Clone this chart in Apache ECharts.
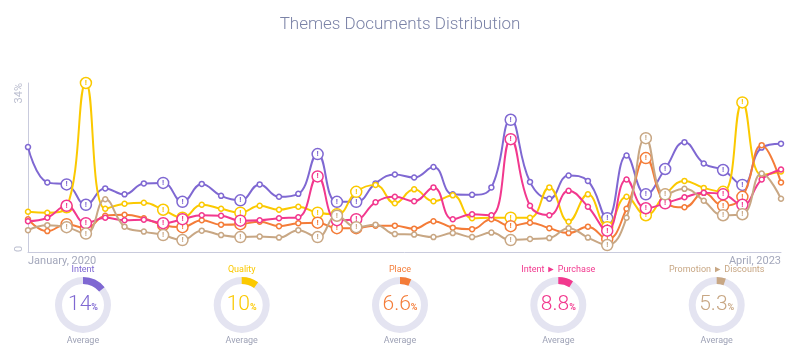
<!DOCTYPE html>
<html>
<head>
<meta charset="utf-8">
<script src="https://cdn.jsdelivr.net/npm/echarts@6/dist/echarts.min.js"></script>
<style>html,body{margin:0;padding:0;background:#fff}#c{width:800px;height:354px}</style>
</head>
<body>
<div id="c"></div>
<script>
const categories = ['January, 2020','February, 2020','March, 2020','April, 2020','May, 2020','June, 2020','July, 2020','August, 2020','September, 2020','October, 2020','November, 2020','December, 2020',
'January, 2021','February, 2021','March, 2021','April, 2021','May, 2021','June, 2021','July, 2021','August, 2021','September, 2021','October, 2021','November, 2021','December, 2021',
'January, 2022','February, 2022','March, 2022','April, 2022','May, 2022','June, 2022','July, 2022','August, 2022','September, 2022','October, 2022','November, 2022','December, 2022',
'January, 2023','February, 2023','March, 2023','April, 2023'];

const seriesNames = ['Intent', 'Quality', 'Place', 'Intent ► Purchase', 'Promotion ► Discounts'];
const seriesColors = ['#7f68d2', '#fbc900', '#f47c38', '#f2388e', '#c8a784'];

const intent    = [21.1,14.0,13.6,9.5,12.8,11.6,13.8,13.9,10.1,13.7,11.3,10.4,13.6,11.1,11.7,19.7,10.1,10.1,13.8,15.6,15.0,17.1,11.6,11.5,13.0,26.6,14.1,10.7,15.4,14.3,6.8,19.4,11.6,16.7,22.1,17.8,16.5,13.5,21.0,21.8];
const quality   = [8.1,7.9,9.0,34,8.7,9.7,9.9,8.5,6.9,9.5,8.7,7.9,9.3,8.5,9.1,7.9,7.6,12.1,13.5,9.8,12.6,10.2,11.4,6.8,6.9,6.9,6.9,13.0,6.1,11.6,5.0,11.1,7.4,11.5,14.3,12.9,12.1,30.1,15.5,16.2];
const place     = [6.6,4.2,5.6,4.8,7.3,7.5,6.8,5.4,5.0,6.4,5.5,5.6,6.1,5.2,5.8,5.9,4.8,4.8,5.3,5.3,4.7,6.2,4.9,4.6,6.6,5.2,5.9,4.8,3.8,5.1,2.6,8.7,18.9,10.0,9.0,11.9,9.3,11.1,21.5,14.0];
const purchase  = [6.2,6.9,9.3,5.8,6.9,6.4,6.5,5.8,6.6,7.4,7.3,6.3,6.4,6.8,7.0,15.2,6.4,6.6,10.0,11.1,10.2,13.0,6.6,7.6,7.4,22.7,9.3,7.4,12.3,9.1,4.3,14.6,8.8,9.8,11.0,11.9,11.6,9.5,14.6,16.6];
const discounts = [4.4,5.4,5.0,3.7,10.6,5.1,4.1,3.4,2.4,4.3,3.4,3.0,3.1,2.9,4.4,3.0,7.3,5.0,5.5,3.6,3.5,3.0,3.8,3.0,3.9,2.4,2.6,2.8,4.8,2.9,1.4,6.9,22.9,11.6,12.7,10.3,7.4,7.6,15.8,10.7];

const flaggedMonths = [2,3,7,8,11,15,16,17,25,30,32,33,36,37];
const averages = [14, 10, 6.6, 8.8, 5.3];
const yTickLabels = ['0', '34%'];

const allSeries = [intent, quality, place, purchase, discounts];
const fontFam = 'Roboto, "Noto Sans", sans-serif';

const lineSeries = allSeries.map((vals, si) => {
  const c = seriesColors[si];
  return {
    type: 'line',
    name: seriesNames[si],
    smooth: 0.45,
    symbol: 'circle',
    symbolSize: 5,
    showAllSymbol: true,
    lineStyle: { color: c, width: 2 },
    itemStyle: { color: '#fff', borderColor: c, borderWidth: 1.5 },
    emphasis: { disabled: true },
    data: vals.map((v, i) => flaggedMonths.indexOf(i) >= 0 ? {
      value: v, symbolSize: 11,
      label: { show: true, position: 'inside', formatter: '!', color: c, fontSize: 8, fontWeight: 'bold', fontFamily: fontFam }
    } : v),
    z: 2 + si
  };
});

const centersX = [83, 241.7, 400, 558.3, 716.7];
const gaugeSeries = averages.map((v, si) => {
  const c = seriesColors[si];
  return {
    type: 'gauge',
    center: [centersX[si], 305],
    radius: 28,
    startAngle: 90, endAngle: -270,
    min: 0, max: 100,
    pointer: { show: false },
    progress: { show: true, width: 7, roundCap: false, itemStyle: { color: c } },
    axisLine: { lineStyle: { width: 7, color: [[1, '#e4e4f1']] } },
    splitLine: { show: false }, axisTick: { show: false }, axisLabel: { show: false },
    title: { show: true, offsetCenter: [0, -35], color: c, fontSize: 9, fontFamily: fontFam },
    detail: {
      offsetCenter: [0, 0],
      formatter: '{v|{value}}{u|%}',
      rich: {
        v: { fontSize: 21, color: c, fontFamily: fontFam, fontWeight: 300 },
        u: { fontSize: 9, color: c, fontFamily: fontFam, padding: [6, 0, 0, 0] }
      }
    },
    data: [{ value: v, name: seriesNames[si] }]
  };
});

const chart = echarts.init(document.getElementById('c'), null, { renderer: 'canvas' });
chart.setOption({
  animation: false,
  backgroundColor: '#fff',
  title: {
    text: 'Themes Documents Distribution', left: 'center', top: 11,
    textStyle: { color: '#7b83a7', fontSize: 17, fontWeight: 300, fontFamily: fontFam }
  },
  grid: { left: 28, right: 19, top: 83, bottom: 102, containLabel: false },
  xAxis: {
    type: 'category', data: categories, boundaryGap: false,
    axisLine: { lineStyle: { color: '#c9cbdd', width: 1 } },
    axisTick: { show: false },
    axisLabel: {
      interval: (idx) => idx === 0 || idx === categories.length - 1,
      color: '#a3a7bb', fontSize: 11, fontFamily: fontFam, margin: 4,
      alignMinLabel: 'left', alignMaxLabel: 'right'
    },
    splitLine: { show: false }
  },
  yAxis: {
    type: 'value', min: 0, max: 34, interval: 34,
    axisLine: { show: true, lineStyle: { color: '#c9cbdd', width: 1 } },
    axisTick: { show: false },
    splitLine: { show: false },
    axisLabel: {
      rotate: 90, margin: 3, color: '#bcbfd0', fontSize: 11, fontFamily: fontFam,
      formatter: (v) => v === 34 ? yTickLabels[1] : yTickLabels[0],
      alignMinLabel: 'left', alignMaxLabel: 'right'
    }
  },
  graphic: centersX.map(x => ({
    type: 'text', x: x, y: 341,
    style: { text: 'Average', textAlign: 'center', textVerticalAlign: 'middle', fill: '#9ea2b6', font: '9px ' + fontFam }
  })),
  series: lineSeries.concat(gaugeSeries)
});
</script>
</body>
</html>
